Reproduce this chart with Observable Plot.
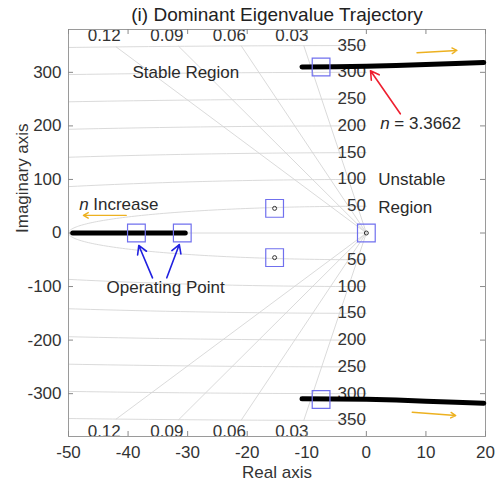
<!DOCTYPE html>
<html>
<head>
<meta charset="utf-8">
<script src="https://cdn.jsdelivr.net/npm/d3@7"></script>
<script src="https://cdn.jsdelivr.net/npm/@observablehq/plot@0.6"></script>
<style>
  html, body { margin: 0; padding: 0; background: white; }
</style>
</head>
<body>
<div id="chart"></div>
<script>
// ---- data ----
const xTicks = [-50, -40, -30, -20, -10, 0, 10, 20];
const yTicks = [-300, -200, -100, 0, 100, 200, 300];
const wnValues = [50, 100, 150, 200, 250, 300, 350];      // sgrid natural-frequency labels
const zetaValues = [0.03, 0.06, 0.09, 0.12];               // sgrid damping-ratio labels

// dominant eigenvalue trajectories (thick black)
const trajLeftX = [-49.3, -30.4];
const trajLeftY = [0, 0];
const trajUpperX = [-10.8, -5, 0, 5, 10, 15, 19.7];
const trajUpperY = [310, 310.5, 311.5, 313, 314.5, 316.5, 318.5];
const trajLowerX = [-10.8, -5, 0, 5, 10, 15, 19.7];
const trajLowerY = [-309.6, -309.8, -310.5, -312, -314, -316, -318];

// highlighted eigenvalues (blue squares)
const sqX = [-38.6, -30.9, -15.4, -15.4, 0, -7.6, -7.6];
const sqY = [0, 0, 46, -46, 0, 310, -311];
// other eigenvalues (small circles)
const eigX = [-15.4, -15.4, 0];
const eigY = [46, -46, 0];

// ---- build grid geometry (sgrid) ----
const arcs = [];
for (const wn of wnValues) {
  for (let a = 90; a <= 270; a += 1) {
    const t = a * Math.PI / 180;
    arcs.push({wn, x: wn * Math.cos(t), y: wn * Math.sin(t)});
  }
}
const zetaLines = [];
for (const z of zetaValues) {
  const s = Math.sqrt(1 - z * z);
  zetaLines.push({k: z + "u", x: 0, y: 0}, {k: z + "u", x: -z * 350, y: s * 350});
  zetaLines.push({k: z + "l", x: 0, y: 0}, {k: z + "l", x: -z * 350, y: -s * 350});
}
const wnLabels = wnValues.flatMap(w => [{w, y: w, dy: -11}, {w, y: -w, dy: 11}]);
const zetaLabels = zetaValues.map(z => ({z, x: -z * 350 - 2}));

const traj = [
  ...trajLeftX.map((x, i) => ({g: "L", x, y: trajLeftY[i]})),
  ...trajUpperX.map((x, i) => ({g: "U", x, y: trajUpperY[i]})),
  ...trajLowerX.map((x, i) => ({g: "D", x, y: trajLowerY[i]}))
];
const squares = sqX.map((x, i) => ({x, y: sqY[i]}));
const eigs = eigX.map((x, i) => ({x, y: eigY[i]}));

const gridColor = "#d6d6d6";
const txt = "#2a2a2a";
const font = "Liberation Sans, Arial, Helvetica, sans-serif";
const FH = 488 - 29 - 52, FW = 500 - 68 - 15;
const fmt = d => String(d);

const chart = Plot.plot({
  width: 500,
  height: 488,
  marginLeft: 68,
  marginRight: 15,
  marginTop: 29,
  marginBottom: 52,
  x: {domain: [-50, 20], label: null},
  y: {domain: [-380, 380], label: null},
  style: {fontFamily: font, fontSize: "17px", color: txt, background: "white", overflow: "visible"},
  marks: [
    // sgrid
    Plot.line(arcs, {x: "x", y: "y", z: "wn", stroke: gridColor, strokeWidth: 0.9, clip: true}),
    Plot.line(zetaLines, {x: "x", y: "y", z: "k", stroke: gridColor, strokeWidth: 0.9, clip: true}),
    Plot.ruleY([0], {x1: -50, x2: 0, stroke: gridColor, strokeWidth: 0.9}),
    Plot.text(wnLabels, {x: 0, y: "y", dy: "dy", dx: -1, text: d => String(d.w), textAnchor: "end", lineAnchor: "middle", fontSize: 17, fill: "#333"}),
    Plot.text(zetaLabels, {x: "x", frameAnchor: "top", lineAnchor: "middle", dy: 6, text: d => String(d.z), fontSize: 17, fill: "#333"}),
    Plot.text(zetaLabels, {x: "x", frameAnchor: "bottom", lineAnchor: "middle", dy: -5, text: d => String(d.z), fontSize: 17, fill: "#333"}),
    // frame & inward ticks
    Plot.frame({stroke: "#9a9a9a"}),
    Plot.tickX(xTicks, {x: d => d, insetBottom: FH - 5, stroke: "#8a8a8a"}),
    Plot.tickX(xTicks, {x: d => d, insetTop: FH - 5, stroke: "#8a8a8a"}),
    Plot.tickY(yTicks, {y: d => d, insetRight: FW - 5, stroke: "#8a8a8a"}),
    Plot.tickY(yTicks, {y: d => d, insetLeft: FW - 5, stroke: "#8a8a8a"}),
    Plot.axisX(xTicks, {tickSize: 0, tickPadding: 9, fontSize: 17, fill: "#333", label: null, tickFormat: fmt}),
    Plot.axisY(yTicks, {tickSize: 0, tickPadding: 7, fontSize: 17, fill: "#333", label: null, tickFormat: fmt}),
    // trajectories
    Plot.line(traj, {x: "x", y: "y", z: "g", stroke: "black", strokeWidth: 5, strokeLinecap: "round"}),
    // markers
    Plot.dot(squares, {x: "x", y: "y", symbol: "square", r: 10, stroke: "#7070ee", strokeWidth: 1.2, fill: "none"}),
    Plot.dot(eigs, {x: "x", y: "y", r: 2, stroke: "#333", strokeWidth: 1, fill: "none"}),
    // annotations
    Plot.text([{x: -30.3, y: 300, t: "Stable Region"}], {x: "x", y: "y", text: "t", fontSize: 17, fill: txt}),
    Plot.text([{x: 2.0, y: 100, t: "Unstable"}, {x: 2.0, y: 48, t: "Region"}], {x: "x", y: "y", text: "t", textAnchor: "start", fontSize: 17, fill: txt}),
    Plot.text([{x: 2.35, y: 205, t: "n"}], {x: "x", y: "y", text: "t", textAnchor: "start", fontStyle: "italic", fontSize: 17, fill: txt}),
    Plot.text([{x: 2.35, y: 205, t: "= 3.3662"}], {x: "x", y: "y", text: "t", textAnchor: "start", dx: 14, fontSize: 17, fill: txt}),
    Plot.text([{x: -48.2, y: 53, t: "n"}], {x: "x", y: "y", text: "t", textAnchor: "start", fontStyle: "italic", fontSize: 17, fill: txt}),
    Plot.text([{x: -48.2, y: 53, t: "Increase"}], {x: "x", y: "y", text: "t", textAnchor: "start", dx: 14, fontSize: 17, fill: txt}),
    Plot.text([{x: -33.7, y: -101, t: "Operating Point"}], {x: "x", y: "y", text: "t", fontSize: 17, fill: txt}),
    Plot.arrow([{x1: 5.7, y1: 222.6, x2: 0.7, y2: 303}], {x1: "x1", y1: "y1", x2: "x2", y2: "y2", stroke: "#ee2030", strokeWidth: 1.6, headLength: 9}),
    Plot.arrow([{x1: -35.9, y1: -83.7, x2: -38.2, y2: -23.3}, {x1: -33.5, y1: -83.7, x2: -31.4, y2: -21.5}], {x1: "x1", y1: "y1", x2: "x2", y2: "y2", stroke: "#2020e0", strokeWidth: 1.6, headLength: 9}),
    Plot.arrow([{x1: 8.5, y1: 336.5, x2: 15.2, y2: 340.8}, {x1: 7.7, y1: -334.6, x2: 15, y2: -340.9}, {x1: -40.3, y1: 33, x2: -47.5, y2: 33}], {x1: "x1", y1: "y1", x2: "x2", y2: "y2", stroke: "#EDB120", strokeWidth: 1.4, headLength: 6}),
    // titles
    Plot.text(["(i) Dominant Eigenvalue Trajectory"], {text: d => d, frameAnchor: "top", lineAnchor: "middle", dy: -15, fontSize: 19, fill: "#222"}),
    Plot.text(["Real axis"], {text: d => d, frameAnchor: "bottom", lineAnchor: "middle", dy: 36, fontSize: 17, fill: "#333"}),
    Plot.text(["Imaginary axis"], {text: d => d, frameAnchor: "left", lineAnchor: "middle", dx: -46, rotate: -90, fontSize: 17, fill: "#333"})
  ]
});
document.getElementById("chart").appendChild(chart);
</script>
</body>
</html>
